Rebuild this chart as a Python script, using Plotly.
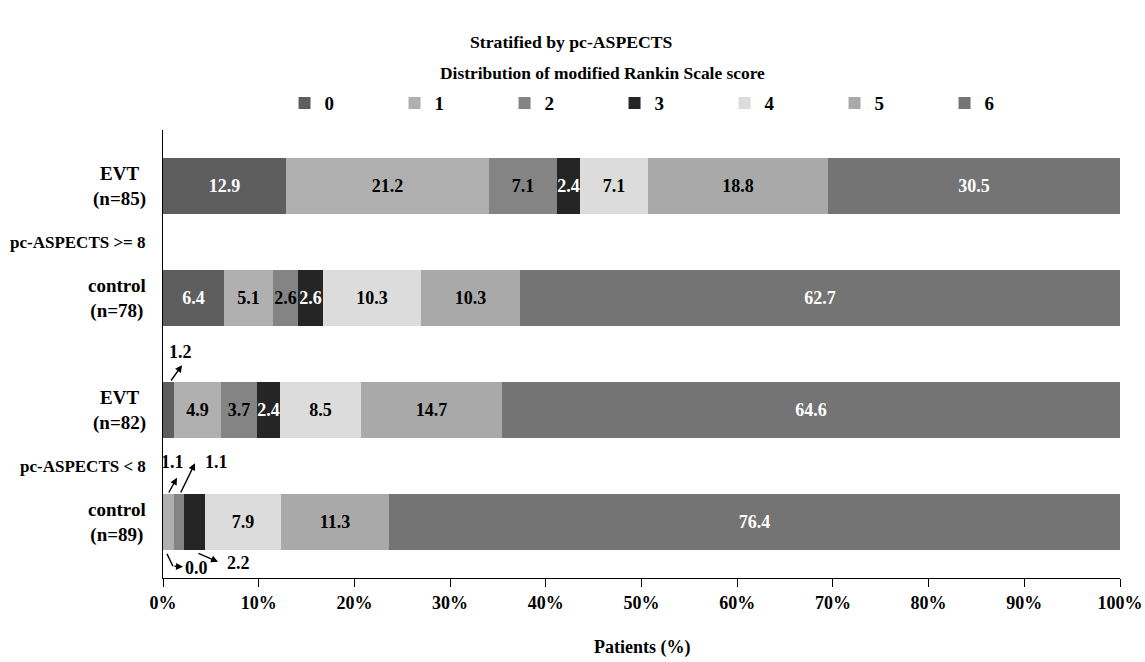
import plotly.graph_objects as go

# modified Rankin Scale categories and their fills
scores = ["0", "1", "2", "3", "4", "5", "6"]
fill_colors = ["#5e5e5e", "#b0b0b0", "#848484", "#252525", "#dcdcdc", "#a9a9a9", "#747474"]
label_colors = ["white", "black", "black", "white", "black", "black", "white"]

# percentage of patients per mRS score, one list per group
evt_high = [12.9, 21.2, 7.1, 2.4, 7.1, 18.8, 30.5]     # EVT, pc-ASPECTS >= 8
ctrl_high = [6.4, 5.1, 2.6, 2.6, 10.3, 10.3, 62.7]    # control, pc-ASPECTS >= 8
evt_low = [1.2, 4.9, 3.7, 2.4, 8.5, 14.7, 64.6]       # EVT, pc-ASPECTS < 8
ctrl_low = [0.0, 1.1, 1.1, 2.2, 7.9, 11.3, 76.4]      # control, pc-ASPECTS < 8

# rows from bottom to top on a numeric y scale
rows = [ctrl_low, evt_low, ctrl_high, evt_high]
row_pos = [0, 2, 4, 6]
row_labels = ["control<br>(n=89)", "EVT<br>(n=82)", "control<br>(n=78)", "EVT<br>(n=85)"]
group_pos = [1, 5]
group_labels = ["pc-ASPECTS < 8", "pc-ASPECTS >= 8"]

x_ticks = list(range(0, 101, 10))
x_tick_text = [f"{v}%" for v in x_ticks]

FONT = "Liberation Serif, DejaVu Serif, serif"

# narrow segments whose values are written outside the bar with a pointer:
# (row index, score index, label position, pointer path points)
callouts = [
    (1, 0, (1.78, 3.04), [(0.73, 2.50), (1.99, 2.80)]),
    (0, 1, (0.99, 1.07), [(0.52, 0.50), (1.46, 0.79)]),
    (0, 2, (5.54, 1.07), [(1.78, 0.50), (3.34, 1.05)]),
    (0, 0, (3.45, -0.82), [(0.42, -0.57), (1.04, -0.79), (2.09, -0.80)]),
    (0, 3, (7.84, -0.73), [(3.55, -0.55), (5.75, -0.71)]),
]
outside = {(r, s) for r, s, _, _ in callouts}

fig = go.Figure()
for s, name in enumerate(scores):
    vals = [row[s] for row in rows]
    texts = ["" if (r, s) in outside else f"{row[s]:.1f}" for r, row in enumerate(rows)]
    fig.add_trace(go.Bar(
        name=name,
        y=row_pos,
        x=vals,
        orientation="h",
        width=1.0,
        marker=dict(color=fill_colors[s], line=dict(width=0)),
        text=texts,
        textposition="inside",
        insidetextanchor="middle",
        textangle=0,
        constraintext="none",
        textfont=dict(family=FONT, size=18, color=label_colors[s], weight="bold"),
        hoverinfo="skip",
    ))

annotations = []

# row labels and group labels to the left of the axis
for pos, lab, size in zip(row_pos + group_pos, row_labels + group_labels,
                          [19] * len(row_pos) + [17] * len(group_pos)):
    annotations.append(dict(
        x=0, xref="paper", y=pos, yref="y", xanchor="right", yanchor="middle",
        xshift=-15, align="center", showarrow=False, text=lab,
        font=dict(family=FONT, size=size, color="black", weight="bold"),
    ))

# values of narrow segments with their pointers
for r, s, (tx, ty), path in callouts:
    annotations.append(dict(
        x=tx, y=ty, xref="x", yref="y", showarrow=False,
        text=f"{rows[r][s]:.1f}",
        font=dict(family=FONT, size=18, color="black", weight="bold"),
    ))
    (hx, hy), (px_, py_) = path[-1], path[-2]
    annotations.append(dict(
        x=hx, y=hy, ax=px_, ay=py_, xref="x", yref="y", axref="x", ayref="y",
        text="", showarrow=True, arrowhead=2, arrowsize=1, arrowwidth=1.4,
        arrowcolor="black", standoff=0, startstandoff=0,
    ))

shapes = []
for r, s, _, path in callouts:
    if len(path) > 2:
        for (x0, y0), (x1, y1) in zip(path[:-2], path[1:-1]):
            shapes.append(dict(type="line", xref="x", yref="y", x0=x0, y0=y0, x1=x1, y1=y1,
                               line=dict(color="black", width=1.4)))

# titles
annotations.append(dict(
    x=0.427, y=1.196, xref="paper", yref="paper", showarrow=False,
    text="Stratified by pc-ASPECTS", yanchor="middle",
    font=dict(family=FONT, size=17.7, color="black", weight="bold"),
))
annotations.append(dict(
    x=0.459, y=1.127, xref="paper", yref="paper", showarrow=False,
    text="Distribution of modified Rankin Scale score", yanchor="middle",
    font=dict(family=FONT, size=17.4, color="black", weight="bold"),
))
annotations.append(dict(
    x=0.5, y=-0.156, xref="paper", yref="paper", showarrow=False,
    text="Patients (%)", yanchor="middle",
    font=dict(family=FONT, size=18, color="black", weight="bold"),
))

fig.update_layout(
    width=1145, height=662,
    margin=dict(l=163, r=25, t=130, b=84),
    paper_bgcolor="white", plot_bgcolor="white",
    barmode="stack",
    bargap=0,
    uniformtext=dict(minsize=18, mode="show"),
    showlegend=True,
    legend=dict(
        orientation="h", x=0.127, y=1.06, xanchor="left", yanchor="middle",
        traceorder="normal", itemwidth=30, entrywidth=65, entrywidthmode="pixels",
        font=dict(family=FONT, size=19, color="black", weight="bold"),
        bgcolor="rgba(0,0,0,0)", itemclick=False, itemdoubleclick=False,
    ),
    xaxis=dict(
        range=[0, 100], tickmode="array", tickvals=x_ticks, ticktext=x_tick_text,
        ticks="outside", ticklen=8, tickcolor="black", tickwidth=1,
        showline=True, linecolor="black", linewidth=1,
        showgrid=False, zeroline=False, automargin=False,
        tickfont=dict(family=FONT, size=18, color="black", weight="bold"),
    ),
    yaxis=dict(
        range=[-1, 7], showticklabels=False, ticks="",
        showline=True, linecolor="black", linewidth=1,
        showgrid=False, zeroline=False, automargin=False,
    ),
    annotations=annotations,
    shapes=shapes,
)

fig.write_html("out.html")
